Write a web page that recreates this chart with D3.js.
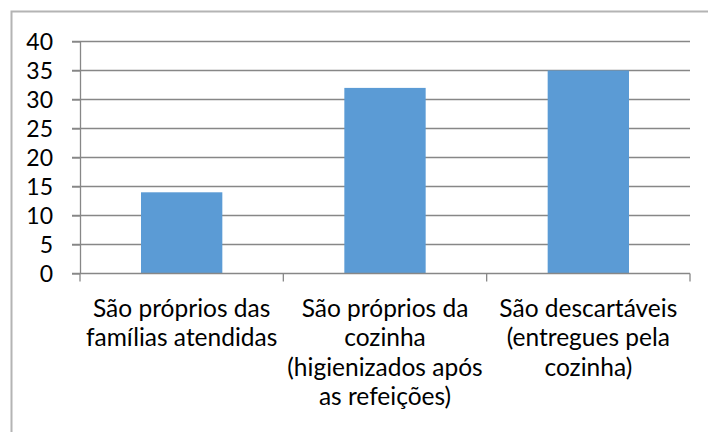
<!DOCTYPE html>
<meta charset="utf-8">
<script src="https://d3js.org/d3.v7.min.js"></script>
<style>
body { margin: 0; background: #fff; }
text {
  fill: #000;
  font-family: Lato, "Open Sans", sans-serif;
}
.grid line { stroke: #878787; stroke-width: 1.3px; }
.axis path, .axis line { stroke: #878787; stroke-width: 1.3px; fill: none; }
</style>
<body>
<script>

// categories, split into the lines shown under each bar
var categories = ["a", "b", "c"];
var labelLines = [
  ["São próprios das", "famílias atendidas"],
  ["São próprios da", "cozinha", "(higienizados após", "as refeições)"],
  ["São descartáveis", "(entregues pela", "cozinha)"]
];
var values = [14, 32, 35];
var yTicks = [0, 5, 10, 15, 20, 25, 30, 35, 40];

var width = 708, height = 432;
var margin = {top: 41.5, right: 18, bottom: 158.5, left: 80};

var svg = d3.select("body").append("svg")
    .attr("width", width)
    .attr("height", height);

// outer chart border (runs off the right and bottom edges)
svg.append("rect")
    .attr("x", 11.5).attr("y", 11.5)
    .attr("width", 720).attr("height", 440)
    .attr("fill", "none")
    .attr("stroke", "#b4b4b4")
    .attr("stroke-width", 2);

var x = d3.scaleBand()
    .domain(categories)
    .range([margin.left, width - margin.right])
    .paddingInner(0.6)
    .paddingOuter(0.3);

var y = d3.scaleLinear()
    .domain([0, 40])
    .range([height - margin.bottom, margin.top]);

// gridlines
svg.append("g")
    .attr("class", "grid")
    .selectAll("line")
    .data(yTicks.filter(function(d) { return d > 0; }))
    .enter().append("line")
    .attr("x1", margin.left - 8)
    .attr("x2", width - margin.right)
    .attr("y1", function(d) { return y(d); })
    .attr("y2", function(d) { return y(d); });

// bars
svg.append("g")
    .selectAll("rect")
    .data(values)
    .enter().append("rect")
    .attr("x", function(d, i) { return x(categories[i]); })
    .attr("width", x.bandwidth())
    .attr("y", function(d) { return y(d); })
    .attr("height", function(d) { return y(0) - y(d); })
    .attr("fill", "#5b9bd5");

// y axis
var yAxis = svg.append("g")
    .attr("class", "axis")
    .attr("transform", "translate(" + margin.left + ",0)")
    .call(d3.axisLeft(y).tickValues(yTicks).tickSize(8).tickSizeOuter(0).tickPadding(19));
yAxis.selectAll("text")
    .style("font-size", "23px")
    .attr("dy", "0.36em");

// x axis: ticks on band boundaries
var step = x.step();
var boundaries = [margin.left];
categories.forEach(function(c) { boundaries.push(x(c) - x.paddingInner() * step / 2 + step); });
var xa = svg.append("g").attr("class", "axis");
xa.append("line")
    .attr("x1", margin.left - 8).attr("x2", width - margin.right)
    .attr("y1", y(0)).attr("y2", y(0));
xa.selectAll(".tk")
    .data(boundaries)
    .enter().append("line")
    .attr("class", "tk")
    .attr("x1", function(d) { return d; }).attr("x2", function(d) { return d; })
    .attr("y1", y(0)).attr("y2", y(0) + 8);

// category labels
var lab = svg.append("g")
    .selectAll("text")
    .data(categories)
    .enter().append("text")
    .attr("text-anchor", "middle")
    .style("font-size", "24.5px")
    .attr("x", function(d) { return x(d) + x.bandwidth() / 2; })
    .attr("y", 316.5);
lab.selectAll("tspan")
    .data(function(d, i) { return labelLines[i]; })
    .enter().append("tspan")
    .attr("x", function() { return d3.select(this.parentNode).attr("x"); })
    .attr("dy", function(d, i) { return i === 0 ? 0 : 29.5; })
    .text(function(d) { return d; });

</script>
</body>
